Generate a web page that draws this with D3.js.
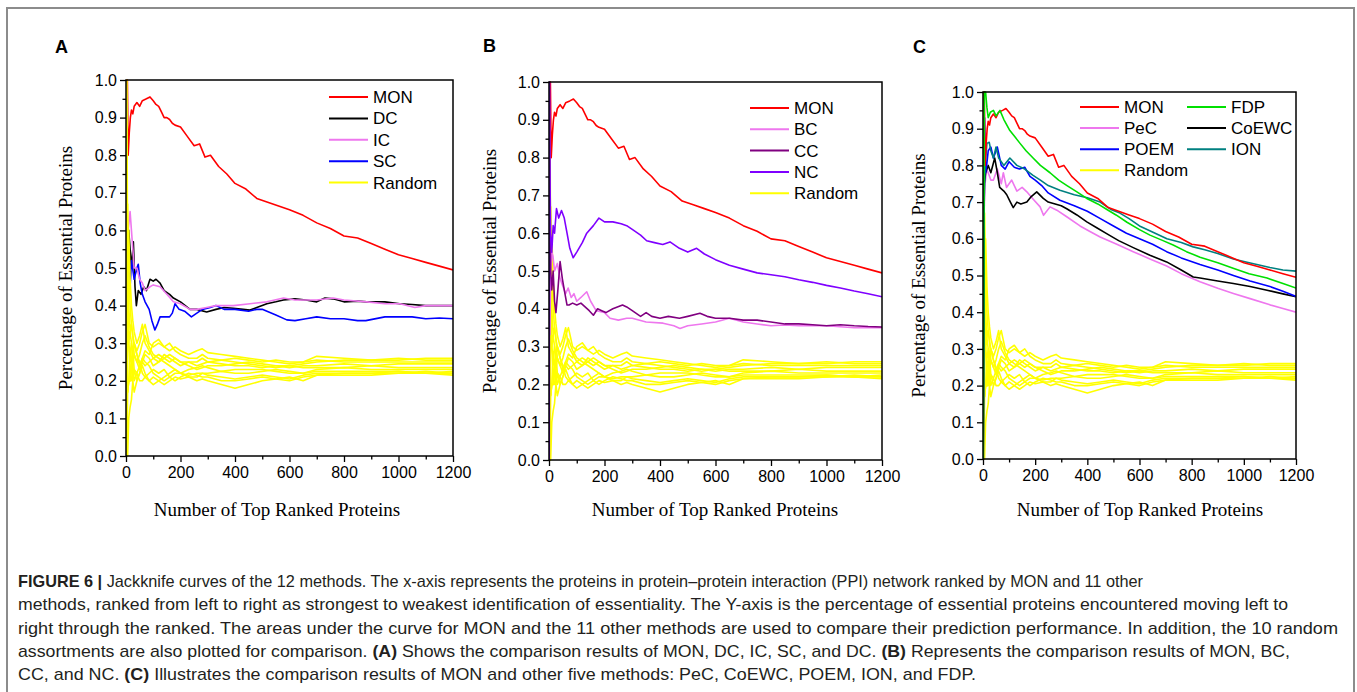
<!DOCTYPE html>
<html><head><meta charset="utf-8">
<script src="https://cdn.jsdelivr.net/npm/d3@7"></script>
<style>body{margin:0;background:#fff}svg{display:block}</style>
</head><body>
<svg id="c" width="1357" height="692"></svg>
<script>
// ---------------- DATA ----------------
const X_TICKS = [0, 200, 400, 600, 800, 1000, 1200];
const X_MINOR = [100, 300, 500, 700, 900, 1100];
const Y_TICKS = [0, 0.1, 0.2, 0.3, 0.4, 0.5, 0.6, 0.7, 0.8, 0.9, 1.0];
const Y_MINOR = [0.05, 0.15, 0.25, 0.35, 0.45, 0.55, 0.65, 0.75, 0.85, 0.95];
const X_TITLE = "Number of Top Ranked Proteins";
const Y_TITLE = "Percentage of Essential Proteins";

const MON = [[1,1.0],[5,1.0],[8,0.80],[12,0.86],[16,0.90],[20,0.92],[25,0.91],[30,0.93],[40,0.94],[50,0.93],[60,0.945],[75,0.95],[88,0.955],[100,0.945],[110,0.935],[120,0.93],[130,0.915],[140,0.90],[150,0.90],[160,0.895],[170,0.885],[180,0.88],[200,0.875],[225,0.85],[250,0.825],[270,0.83],[290,0.795],[310,0.80],[340,0.77],[370,0.75],[400,0.725],[440,0.71],[480,0.685],[520,0.675],[560,0.665],[600,0.655],[650,0.64],[700,0.62],[750,0.605],[800,0.585],[850,0.58],[900,0.565],[950,0.55],[1000,0.535],[1050,0.525],[1100,0.515],[1150,0.505],[1200,0.495]];

const DC = [[1,1.0],[3,0.67],[6,0.5],[10,0.6],[15,0.55],[20,0.5],[27,0.57],[33,0.45],[38,0.40],[45,0.44],[55,0.43],[65,0.45],[75,0.44],[88,0.47],[100,0.465],[110,0.47],[125,0.46],[140,0.44],[160,0.43],[174,0.42],[200,0.41],[235,0.39],[260,0.39],[296,0.383],[330,0.39],[360,0.395],[394,0.393],[430,0.39],[455,0.388],[480,0.395],[517,0.405],[550,0.41],[578,0.415],[620,0.418],[660,0.415],[700,0.41],[730,0.42],[760,0.418],[800,0.41],[850,0.412],[884,0.41],[950,0.41],[1005,0.405],[1050,0.403],[1100,0.40],[1150,0.40],[1200,0.40]];

const IC = [[1,1.0],[4,0.5],[8,0.6],[15,0.65],[20,0.6],[25,0.55],[30,0.5],[40,0.5],[50,0.47],[60,0.46],[70,0.44],[88,0.45],[100,0.455],[125,0.45],[150,0.43],[174,0.41],[200,0.405],[235,0.39],[260,0.39],[296,0.395],[330,0.40],[394,0.40],[455,0.405],[517,0.41],[578,0.42],[620,0.415],[660,0.415],[700,0.415],[760,0.42],[800,0.415],[884,0.41],[950,0.405],[1005,0.405],[1060,0.395],[1100,0.40],[1150,0.40],[1200,0.40]];

const SC = [[1,1.0],[5,0.6],[10,0.5],[15,0.45],[20,0.52],[30,0.47],[40,0.5],[45,0.51],[52,0.46],[60,0.43],[70,0.41],[85,0.39],[95,0.36],[106,0.335],[115,0.35],[125,0.37],[140,0.37],[160,0.37],[170,0.38],[180,0.405],[195,0.39],[215,0.385],[240,0.37],[260,0.38],[280,0.39],[310,0.395],[330,0.40],[360,0.39],[400,0.39],[450,0.385],[480,0.39],[500,0.39],[550,0.375],[590,0.362],[620,0.36],[660,0.365],[700,0.37],[750,0.365],[800,0.365],[850,0.36],[880,0.36],[950,0.37],[1000,0.37],[1050,0.37],[1100,0.365],[1150,0.367],[1200,0.365]];

const BC = [[3,0.33],[6,0.5],[10,0.55],[14,0.54],[20,0.5],[30,0.52],[40,0.48],[50,0.46],[60,0.44],[69,0.455],[80,0.43],[90,0.44],[100,0.42],[115,0.43],[136,0.445],[150,0.42],[170,0.395],[200,0.39],[220,0.375],[250,0.37],[280,0.375],[300,0.375],[350,0.365],[411,0.362],[450,0.355],[472,0.348],[500,0.355],[550,0.36],[600,0.365],[650,0.375],[700,0.365],[750,0.36],[800,0.355],[850,0.357],[900,0.355],[1000,0.355],[1100,0.35],[1200,0.35]];

const CC = [[1,1.0],[3,0.67],[6,0.5],[10,0.45],[15,0.5],[20,0.42],[25,0.39],[32,0.45],[40,0.525],[48,0.48],[55,0.45],[65,0.41],[72,0.41],[85,0.415],[100,0.41],[115,0.415],[130,0.405],[145,0.395],[160,0.383],[175,0.40],[190,0.395],[205,0.39],[230,0.40],[265,0.41],[280,0.405],[300,0.395],[330,0.38],[350,0.39],[370,0.38],[400,0.375],[430,0.38],[470,0.375],[500,0.38],[544,0.388],[570,0.38],[600,0.375],[650,0.375],[700,0.37],[750,0.37],[800,0.365],[850,0.36],[900,0.36],[950,0.358],[1000,0.355],[1050,0.358],[1100,0.355],[1150,0.353],[1200,0.352]];

const NC = [[1,0.0],[2,1.0],[4,0.72],[6,0.6],[10,0.55],[15,0.62],[20,0.6],[27,0.665],[35,0.64],[45,0.66],[55,0.64],[65,0.6],[75,0.56],[87,0.535],[100,0.55],[120,0.575],[136,0.6],[160,0.62],[180,0.64],[200,0.63],[230,0.63],[260,0.625],[280,0.62],[300,0.61],[330,0.595],[352,0.58],[380,0.575],[410,0.57],[436,0.577],[470,0.56],[500,0.55],[532,0.56],[560,0.545],[600,0.53],[650,0.515],[700,0.505],[750,0.495],[800,0.49],[850,0.485],[900,0.477],[950,0.47],[1000,0.462],[1050,0.455],[1100,0.447],[1150,0.44],[1200,0.432]];

const PEC = [[1,0.0],[4,0.67],[8,0.75],[14,0.79],[20,0.78],[30,0.76],[40,0.76],[55,0.79],[70,0.75],[78,0.78],[90,0.74],[110,0.76],[130,0.73],[150,0.74],[168,0.728],[190,0.71],[219,0.687],[232,0.664],[257,0.687],[283,0.678],[321,0.66],[372,0.635],[410,0.62],[449,0.605],[513,0.585],[576,0.565],[640,0.545],[704,0.526],[760,0.505],[832,0.483],[900,0.465],[960,0.451],[1024,0.437],[1100,0.42],[1150,0.41],[1200,0.40]];

const COEWC = [[1,0.0],[5,0.75],[10,0.78],[20,0.80],[30,0.78],[45,0.82],[55,0.78],[64,0.74],[80,0.73],[91,0.72],[105,0.70],[116,0.685],[130,0.70],[145,0.695],[168,0.70],[185,0.715],[206,0.728],[231,0.71],[250,0.70],[270,0.696],[300,0.69],[321,0.682],[360,0.665],[398,0.646],[436,0.63],[474,0.614],[520,0.595],[576,0.576],[640,0.555],[704,0.537],[760,0.515],[806,0.496],[832,0.493],[900,0.485],[960,0.478],[1024,0.47],[1089,0.46],[1150,0.45],[1200,0.442]];

const POEM = [[1,0.0],[3,0.5],[6,0.93],[10,0.78],[14,0.80],[20,0.84],[30,0.85],[40,0.82],[55,0.85],[70,0.80],[85,0.79],[100,0.81],[120,0.795],[140,0.79],[160,0.795],[180,0.77],[200,0.76],[225,0.745],[250,0.725],[295,0.705],[350,0.69],[400,0.675],[450,0.655],[500,0.635],[550,0.615],[600,0.60],[650,0.585],[704,0.565],[760,0.548],[832,0.53],[900,0.515],[960,0.50],[1024,0.485],[1100,0.47],[1150,0.457],[1200,0.443]];

const ION = [[1,0.0],[3,0.67],[8,0.80],[15,0.86],[24,0.863],[30,0.84],[40,0.82],[50,0.85],[60,0.82],[80,0.80],[103,0.82],[130,0.80],[160,0.79],[192,0.773],[220,0.76],[250,0.745],[295,0.732],[350,0.72],[400,0.712],[449,0.70],[490,0.68],[525,0.67],[560,0.655],[600,0.635],[660,0.615],[705,0.60],[760,0.59],[806,0.578],[850,0.57],[900,0.56],[960,0.545],[1000,0.538],[1050,0.53],[1100,0.522],[1150,0.515],[1200,0.512]];

const FDP = [[1,0.0],[5,1.0],[10,1.0],[15,0.958],[20,0.93],[28,0.945],[40,0.95],[50,0.935],[65,0.95],[80,0.925],[103,0.895],[120,0.88],[142,0.86],[165,0.84],[192,0.82],[220,0.80],[257,0.78],[290,0.76],[322,0.745],[360,0.728],[398,0.71],[440,0.695],[475,0.68],[510,0.665],[552,0.645],[600,0.625],[640,0.61],[690,0.595],[729,0.583],[780,0.565],[832,0.55],[900,0.535],[959,0.52],[1020,0.505],[1089,0.493],[1150,0.478],[1200,0.466]];

const RANDOM_X = [1,3,6,10,15,20,25,30,40,50,60,70,85,100,120,140,160,180,200,230,260,280,300,350,400,450,500,550,600,650,700,800,900,1000,1100,1200];
const RANDOM_1 = [1.0,0.67,0.5,0.4,0.33,0.35,0.32,0.3,0.28,0.3,0.33,0.35,0.3,0.29,0.3,0.29,0.3,0.28,0.27,0.26,0.26,0.27,0.26,0.255,0.25,0.245,0.24,0.235,0.24,0.245,0.25,0.255,0.255,0.26,0.255,0.255];
const RANDOM_2 = [0.0,0.0,0.17,0.2,0.27,0.25,0.28,0.3,0.27,0.24,0.26,0.28,0.27,0.3,0.31,0.29,0.28,0.29,0.28,0.27,0.28,0.285,0.275,0.27,0.265,0.26,0.255,0.25,0.245,0.25,0.265,0.26,0.255,0.255,0.26,0.26];
const RANDOM_3 = [0.0,0.33,0.33,0.3,0.2,0.25,0.2,0.23,0.2,0.22,0.24,0.22,0.2,0.21,0.2,0.19,0.2,0.21,0.205,0.21,0.2,0.205,0.2,0.19,0.18,0.19,0.2,0.205,0.21,0.2,0.215,0.215,0.215,0.22,0.22,0.215];
const RANDOM_4 = [1.0,0.5,0.33,0.3,0.27,0.3,0.28,0.3,0.27,0.25,0.22,0.21,0.22,0.23,0.22,0.23,0.21,0.22,0.22,0.23,0.235,0.24,0.235,0.225,0.22,0.22,0.225,0.23,0.225,0.22,0.225,0.225,0.225,0.225,0.22,0.225];
const RANDOM_5 = [0.0,0.0,0.0,0.1,0.13,0.15,0.2,0.17,0.2,0.22,0.25,0.27,0.26,0.24,0.25,0.26,0.27,0.26,0.25,0.25,0.24,0.245,0.25,0.245,0.24,0.24,0.235,0.24,0.24,0.235,0.235,0.235,0.24,0.235,0.235,0.235];
const RANDOM_6 = [1.0,0.67,0.67,0.5,0.4,0.35,0.32,0.27,0.25,0.27,0.3,0.32,0.29,0.27,0.26,0.25,0.24,0.23,0.22,0.21,0.21,0.22,0.22,0.225,0.23,0.23,0.23,0.225,0.22,0.22,0.23,0.235,0.23,0.23,0.23,0.23];
const RANDOM_7 = [0.0,0.33,0.17,0.2,0.2,0.2,0.24,0.2,0.22,0.2,0.2,0.21,0.2,0.19,0.2,0.21,0.22,0.23,0.22,0.215,0.22,0.22,0.215,0.21,0.205,0.21,0.215,0.21,0.205,0.215,0.22,0.22,0.22,0.225,0.22,0.22];
const RANDOM_8 = [1.0,1.0,0.5,0.6,0.47,0.4,0.36,0.33,0.3,0.32,0.35,0.3,0.28,0.26,0.25,0.27,0.26,0.25,0.24,0.25,0.25,0.26,0.25,0.255,0.26,0.255,0.25,0.255,0.25,0.25,0.255,0.25,0.25,0.25,0.25,0.25];
const RANDOM_9 = [0.0,0.33,0.5,0.3,0.33,0.3,0.24,0.27,0.25,0.23,0.25,0.24,0.25,0.26,0.27,0.26,0.25,0.26,0.25,0.24,0.23,0.235,0.24,0.24,0.245,0.25,0.245,0.24,0.235,0.24,0.24,0.245,0.24,0.245,0.245,0.245];
const RANDOM_10 = [1.0,0.33,0.17,0.2,0.2,0.25,0.28,0.23,0.22,0.24,0.26,0.25,0.24,0.22,0.21,0.2,0.21,0.2,0.21,0.22,0.215,0.21,0.21,0.2,0.2,0.205,0.21,0.205,0.2,0.21,0.215,0.22,0.22,0.22,0.225,0.22];
const RANDOMS = [RANDOM_1,RANDOM_2,RANDOM_3,RANDOM_4,RANDOM_5,RANDOM_6,RANDOM_7,RANDOM_8,RANDOM_9,RANDOM_10];

const CAPTION = [
  [["FIGURE 6 |", true], [" Jackknife curves of the 12 methods. The x-axis represents the proteins in protein\u2013protein interaction (PPI) network ranked by MON and 11 other", false]],
  [["methods, ranked from left to right as strongest to weakest identification of essentiality. The Y-axis is the percentage of essential proteins encountered moving left to", false]],
  [["right through the ranked. The areas under the curve for MON and the 11 other methods are used to compare their prediction performance. In addition, the 10 random", false]],
  [["assortments are also plotted for comparison. ", false], ["(A)", true], [" Shows the comparison results of MON, DC, IC, SC, and DC. ", false], ["(B)", true], [" Represents the comparison results of MON, BC,", false]],
  [["CC, and NC. ", false], ["(C)", true], [" Illustrates the comparison results of MON and other five methods: PeC, CoEWC, POEM, ION, and FDP.", false]]
];
const CAPTION_WIDTHS = [1125, 1270, 1320, 1272, 958];

// ---------------- STYLE / LAYOUT ----------------
const COLORS = {MON:'#ff0000', DC:'#000000', IC:'#ee77ee', SC:'#0000ff', Random:'#ffff00',
  BC:'#ee77ee', CC:'#800080', NC:'#7f00ff', PeC:'#ee77ee', CoEWC:'#000000', POEM:'#0000ff', ION:'#008080', FDP:'#00e000'};
const SANS = "'Liberation Sans', Arial, Helvetica, sans-serif";
const SERIF = "'Liberation Serif', 'Times New Roman', Times, serif";

const randomSeries = RANDOMS.map(ys => ({name:'Random', data: RANDOM_X.map((x,i)=>[x, ys[i]])}));

const panels = [
  {letter:'A', box:{l:126, r:453, t:80, b:456}, letterPos:[55,53], yTitleX:72, xTitleX:277,
   series: [{name:'MON',data:MON},{name:'DC',data:DC},{name:'SC',data:SC},{name:'IC',data:IC}, ...randomSeries],
   legend: {cols:[{x:329, items:['MON','DC','IC','SC','Random']}], y0:97, dy:21.4}},
  {letter:'B', box:{l:549, r:882, t:82, b:460}, letterPos:[483,52], yTitleX:496, xTitleX:715,
   series: [...randomSeries, {name:'MON',data:MON},{name:'BC',data:BC},{name:'CC',data:CC},{name:'NC',data:NC}],
   legend: {cols:[{x:750, items:['MON','BC','CC','NC','Random']}], y0:108, dy:21.3}},
  {letter:'C', box:{l:983, r:1296, t:92, b:459}, letterPos:[913,53], yTitleX:925, xTitleX:1140,
   series: [...randomSeries, {name:'PeC',data:PEC},{name:'CoEWC',data:COEWC},{name:'POEM',data:POEM},{name:'ION',data:ION},{name:'MON',data:MON},{name:'FDP',data:FDP}],
   legend: {cols:[{x:1080, items:['MON','PeC','POEM','Random']},{x:1187, items:['FDP','CoEWC','ION']}], y0:107, dy:21.1}}
];

// ---------------- DRAW ----------------
const svg = d3.select('#c');
svg.append('rect').attr('x',7).attr('y',8).attr('width',1347).attr('height',700)
  .attr('fill','none').attr('stroke','#8c8c8c').attr('stroke-width',2);

panels.forEach((p, pi) => {
  const {l,r,t,b} = p.box;
  const x = d3.scaleLinear().domain([0,1200]).range([l,r]);
  const y = d3.scaleLinear().domain([0,1]).range([b,t]);
  const g = svg.append('g');

  const clipId = 'clip' + pi;
  svg.append('clipPath').attr('id', clipId).append('rect')
    .attr('x', l).attr('y', t-1).attr('width', r-l).attr('height', b-t+2);

  const line = d3.line().x(d=>x(d[0])).y(d=>y(d[1]));
  const lg = g.append('g').attr('clip-path', `url(#${clipId})`);
  p.series.forEach(s => {
    lg.append('path').datum(s.data).attr('d', line)
      .attr('fill','none').attr('stroke', COLORS[s.name]).attr('stroke-width',1.6)
      .attr('stroke-linejoin','round');
  });

  g.append('rect').attr('x',l).attr('y',t).attr('width',r-l).attr('height',b-t)
    .attr('fill','none').attr('stroke','#000').attr('stroke-width',1.5);

  const xa = g.append('g').attr('transform',`translate(0,${b})`)
    .call(d3.axisBottom(x).tickValues(X_TICKS).tickSize(6).tickSizeOuter(0).tickPadding(5).tickFormat(d3.format('d')));
  const xm = g.append('g').attr('transform',`translate(0,${b})`)
    .call(d3.axisBottom(x).tickValues(X_MINOR).tickSize(3.5).tickSizeOuter(0).tickFormat(''));
  const ya = g.append('g').attr('transform',`translate(${l},0)`)
    .call(d3.axisLeft(y).tickValues(Y_TICKS).tickSize(6).tickSizeOuter(0).tickPadding(3).tickFormat(d3.format('.1f')));
  const ym = g.append('g').attr('transform',`translate(${l},0)`)
    .call(d3.axisLeft(y).tickValues(Y_MINOR).tickSize(3.5).tickSizeOuter(0).tickFormat(''));
  [xa,xm,ya,ym].forEach(a => {
    a.select('.domain').remove();
    a.selectAll('line').attr('stroke','#000').attr('stroke-width',1.3);
    a.selectAll('text').attr('fill','#000').style('font-family',SANS).style('font-size','16px');
  });

  g.append('text').attr('x', p.xTitleX).attr('y', 516).attr('text-anchor','middle')
    .style('font-family',SERIF).style('font-size','19px').attr('fill','#000').text(X_TITLE);
  g.append('text').attr('transform',`translate(${p.yTitleX},${(t+b)/2}) rotate(-90)`).attr('text-anchor','middle')
    .style('font-family',SERIF).style('font-size','19px').attr('fill','#000').text(Y_TITLE);

  g.append('text').attr('x', p.letterPos[0]).attr('y', p.letterPos[1])
    .style('font-family',SANS).style('font-size','18px').style('font-weight','bold').attr('fill','#000').text(p.letter);

  p.legend.cols.forEach(col => {
    col.items.forEach((name, i) => {
      const yy = p.legend.y0 + i * p.legend.dy;
      g.append('line').attr('x1', col.x).attr('x2', col.x + 39).attr('y1', yy).attr('y2', yy)
        .attr('stroke', COLORS[name]).attr('stroke-width', 2);
      g.append('text').attr('x', col.x + 44).attr('y', yy + 6)
        .style('font-family',SANS).style('font-size','17px').attr('fill','#000').text(name);
    });
  });
});

const capY0 = 587, capDy = 23.3;
CAPTION.forEach((segs, i) => {
  const tx = svg.append('text').attr('x', 18).attr('y', capY0 + i*capDy)
    .attr('textLength', CAPTION_WIDTHS[i]).attr('lengthAdjust','spacingAndGlyphs')
    .style('font-family',"'Liberation Sans Narrow', 'Liberation Sans', Arial, sans-serif")
    .style('font-size','17px').attr('fill','#231f20');
  segs.forEach(([s, bold]) => {
    tx.append('tspan').style('font-weight', bold ? 'bold' : 'normal').text(s);
  });
});
</script>
</body></html>
